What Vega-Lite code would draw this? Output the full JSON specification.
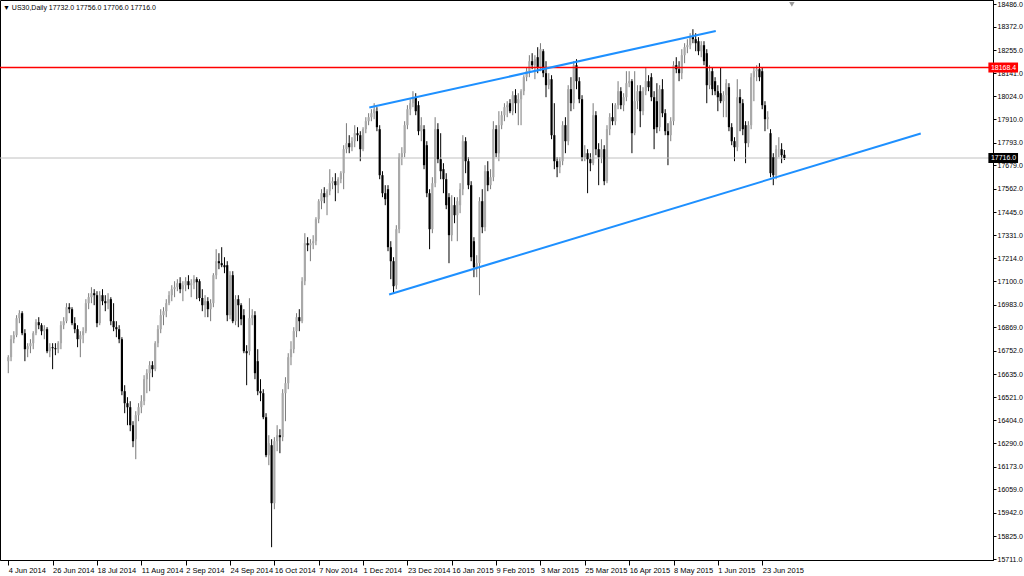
{
  "$schema": "https://vega.github.io/schema/vega-lite/v6.json",
  "width": 993,
  "height": 560,
  "autosize": "none",
  "padding": {"left": 0, "top": 0, "right": 31, "bottom": 16},
  "background": "#ffffff",
  "config": {
    "view": {"stroke": "#000000", "strokeWidth": 1},
    "axis": {"grid": false, "title": null, "labelOverlap": false, "labelFlush": false, "labelBound": false, "tickColor": "#000000", "domainColor": "#000000", "labelColor": "#000000", "labelFont": "Liberation Sans", "labelFontSize": 7},
    "axisX": {"labelPadding": 1, "tickSize": 5, "labelFontSize": 7.5},
    "axisY": {"tickSize": 3, "labelPadding": 1}
  },
  "title": {"text": "▼  US30,Daily  17732.0 17756.0 17706.0 17716.0", "anchor": "start", "frame": "group", "offset": -11, "fontSize": 7, "font": "Liberation Sans", "fontWeight": "normal", "color": "#000000", "dx": 3},
  "datasets": {
    "candles": [
      {"i":0,"o":16700,"h":16730,"l":16640,"c":16720},{"i":1,"o":16720,"h":16830,"l":16700,"c":16810},{"i":2,"o":16810,"h":16850,"l":16790,"c":16830},{"i":3,"o":16830,"h":16930,"l":16820,"c":16915},{"i":4,"o":16915,"h":16955,"l":16890,"c":16940},
      {"i":5,"o":16940,"h":16950,"l":16830,"c":16840},{"i":6,"o":16840,"h":16860,"l":16700,"c":16760},{"i":7,"o":16760,"h":16790,"l":16720,"c":16775},{"i":8,"o":16775,"h":16810,"l":16740,"c":16790},{"i":9,"o":16790,"h":16850,"l":16760,"c":16840},
      {"i":10,"o":16840,"h":16910,"l":16830,"c":16895},{"i":11,"o":16895,"h":16920,"l":16860,"c":16880},{"i":12,"o":16880,"h":16890,"l":16830,"c":16850},{"i":13,"o":16850,"h":16880,"l":16810,"c":16860},{"i":14,"o":16860,"h":16870,"l":16740,"c":16750},
      {"i":15,"o":16750,"h":16790,"l":16720,"c":16770},{"i":16,"o":16770,"h":16790,"l":16660,"c":16765},{"i":17,"o":16765,"h":16790,"l":16730,"c":16760},{"i":18,"o":16760,"h":16800,"l":16740,"c":16790},{"i":19,"o":16790,"h":16900,"l":16760,"c":16880},
      {"i":20,"o":16880,"h":16920,"l":16860,"c":16900},{"i":21,"o":16900,"h":16990,"l":16890,"c":16970},{"i":22,"o":16970,"h":16990,"l":16940,"c":16960},{"i":23,"o":16960,"h":16970,"l":16880,"c":16890},{"i":24,"o":16890,"h":16920,"l":16840,"c":16860},
      {"i":25,"o":16860,"h":16880,"l":16770,"c":16810},{"i":26,"o":16810,"h":16850,"l":16720,"c":16830},{"i":27,"o":16830,"h":16870,"l":16790,"c":16850},{"i":28,"o":16850,"h":17010,"l":16840,"c":16990},{"i":29,"o":16990,"h":17040,"l":16960,"c":17020},
      {"i":30,"o":17020,"h":17070,"l":16990,"c":17040},{"i":31,"o":17040,"h":17060,"l":16980,"c":17030},{"i":32,"o":17030,"h":17050,"l":16870,"c":16890},{"i":33,"o":16890,"h":17050,"l":16880,"c":17030},{"i":34,"o":17030,"h":17060,"l":16980,"c":17000},
      {"i":35,"o":17000,"h":17030,"l":16950,"c":16990},{"i":36,"o":16990,"h":17040,"l":16960,"c":17010},{"i":37,"o":17010,"h":17020,"l":16880,"c":16900},{"i":38,"o":16900,"h":16990,"l":16850,"c":16870},{"i":39,"o":16870,"h":16900,"l":16820,"c":16860},
      {"i":40,"o":16860,"h":16880,"l":16790,"c":16810},{"i":41,"o":16810,"h":16820,"l":16530,"c":16550},{"i":42,"o":16550,"h":16580,"l":16440,"c":16490},{"i":43,"o":16490,"h":16520,"l":16380,"c":16470},{"i":44,"o":16470,"h":16500,"l":16350,"c":16380},
      {"i":45,"o":16380,"h":16400,"l":16270,"c":16300},{"i":46,"o":16310,"h":16450,"l":16210,"c":16430},{"i":47,"o":16430,"h":16490,"l":16400,"c":16470},{"i":48,"o":16470,"h":16530,"l":16440,"c":16500},{"i":49,"o":16500,"h":16630,"l":16480,"c":16610},
      {"i":50,"o":16610,"h":16660,"l":16540,"c":16640},{"i":51,"o":16640,"h":16700,"l":16550,"c":16680},{"i":52,"o":16680,"h":16700,"l":16620,"c":16660},{"i":53,"o":16660,"h":16800,"l":16650,"c":16790},{"i":54,"o":16790,"h":16880,"l":16770,"c":16860},
      {"i":55,"o":16860,"h":16960,"l":16840,"c":16930},{"i":56,"o":16930,"h":16970,"l":16880,"c":16950},{"i":57,"o":16950,"h":17010,"l":16920,"c":16990},{"i":58,"o":16990,"h":17050,"l":16980,"c":17030},{"i":59,"o":17030,"h":17080,"l":17000,"c":17060},
      {"i":60,"o":17060,"h":17100,"l":17020,"c":17070},{"i":61,"o":17070,"h":17110,"l":17050,"c":17090},{"i":62,"o":17090,"h":17120,"l":17040,"c":17060},{"i":63,"o":17060,"h":17100,"l":17000,"c":17080},{"i":64,"o":17080,"h":17120,"l":17050,"c":17100},
      {"i":65,"o":17100,"h":17130,"l":17060,"c":17080},{"i":66,"o":17080,"h":17110,"l":17020,"c":17090},{"i":67,"o":17090,"h":17130,"l":17060,"c":17110},{"i":68,"o":17110,"h":17120,"l":17010,"c":17095},{"i":69,"o":17100,"h":17110,"l":17000,"c":17016},
      {"i":70,"o":17016,"h":17060,"l":16950,"c":16980},{"i":71,"o":16980,"h":17030,"l":16920,"c":17000},{"i":72,"o":17000,"h":17020,"l":16920,"c":16960},{"i":73,"o":16960,"h":17010,"l":16900,"c":16990},{"i":74,"o":16990,"h":17140,"l":16970,"c":17130},
      {"i":75,"o":17130,"h":17260,"l":17110,"c":17200},{"i":76,"o":17200,"h":17240,"l":17160,"c":17190},{"i":77,"o":17190,"h":17270,"l":17170,"c":17180},{"i":78,"o":17180,"h":17220,"l":17140,"c":17170},{"i":79,"o":17180,"h":17200,"l":16900,"c":16930},
      {"i":80,"o":16930,"h":17150,"l":16910,"c":17130},{"i":81,"o":17130,"h":17150,"l":16890,"c":16900},{"i":82,"o":16900,"h":17030,"l":16880,"c":17010},{"i":83,"o":17010,"h":17030,"l":16870,"c":16980},{"i":84,"o":16980,"h":16990,"l":16880,"c":16910},
      {"i":85,"o":16930,"h":16960,"l":16740,"c":16750},{"i":86,"o":16750,"h":16780,"l":16580,"c":16740},{"i":87,"o":16750,"h":17015,"l":16730,"c":16915},{"i":88,"o":16915,"h":16960,"l":16880,"c":16930},{"i":89,"o":16930,"h":16950,"l":16610,"c":16640},
      {"i":90,"o":16700,"h":16760,"l":16530,"c":16550},{"i":91,"o":16550,"h":16610,"l":16500,"c":16540},{"i":92,"o":16540,"h":16560,"l":16410,"c":16420},{"i":93,"o":16420,"h":16440,"l":16220,"c":16230},{"i":94,"o":16230,"h":16330,"l":16180,"c":16290},
      {"i":95,"o":16280,"h":16310,"l":15770,"c":15990},{"i":96,"o":15990,"h":16320,"l":15960,"c":16300},{"i":97,"o":16300,"h":16380,"l":16250,"c":16330},{"i":98,"o":16330,"h":16360,"l":16240,"c":16320},{"i":99,"o":16320,"h":16560,"l":16300,"c":16540},
      {"i":100,"o":16540,"h":16620,"l":16400,"c":16590},{"i":101,"o":16590,"h":16740,"l":16560,"c":16720},{"i":102,"o":16720,"h":16800,"l":16680,"c":16760},{"i":103,"o":16760,"h":16870,"l":16740,"c":16850},{"i":104,"o":16850,"h":16940,"l":16820,"c":16920},
      {"i":105,"o":16920,"h":16960,"l":16850,"c":16900},{"i":106,"o":16900,"h":17120,"l":16890,"c":17100},{"i":107,"o":17100,"h":17340,"l":17080,"c":17290},{"i":108,"o":17290,"h":17320,"l":17250,"c":17280},{"i":109,"o":17280,"h":17310,"l":17200,"c":17290},
      {"i":110,"o":17290,"h":17330,"l":17260,"c":17300},{"i":111,"o":17300,"h":17420,"l":17280,"c":17410},{"i":112,"o":17410,"h":17510,"l":17390,"c":17500},{"i":113,"o":17500,"h":17560,"l":17460,"c":17540},{"i":114,"o":17540,"h":17570,"l":17490,"c":17520},
      {"i":115,"o":17520,"h":17560,"l":17430,"c":17550},{"i":116,"o":17550,"h":17660,"l":17530,"c":17590},{"i":117,"o":17590,"h":17620,"l":17560,"c":17600},{"i":118,"o":17600,"h":17640,"l":17500,"c":17580},{"i":119,"o":17580,"h":17620,"l":17540,"c":17610},
      {"i":120,"o":17610,"h":17650,"l":17590,"c":17640},{"i":121,"o":17640,"h":17780,"l":17560,"c":17760},{"i":122,"o":17760,"h":17890,"l":17740,"c":17790},{"i":123,"o":17790,"h":17830,"l":17740,"c":17770},{"i":124,"o":17770,"h":17820,"l":17750,"c":17800},
      {"i":125,"o":17800,"h":17880,"l":17770,"c":17840},{"i":126,"o":17840,"h":17870,"l":17800,"c":17830},{"i":127,"o":17830,"h":17850,"l":17700,"c":17760},{"i":128,"o":17760,"h":17870,"l":17750,"c":17860},{"i":129,"o":17860,"h":17920,"l":17840,"c":17900},
      {"i":130,"o":17900,"h":17940,"l":17880,"c":17920},{"i":131,"o":17920,"h":17960,"l":17900,"c":17940},{"i":132,"o":17940,"h":17990,"l":17910,"c":17960},{"i":133,"o":17950,"h":17970,"l":17850,"c":17870},{"i":134,"o":17860,"h":17880,"l":17610,"c":17630},
      {"i":135,"o":17630,"h":17650,"l":17520,"c":17540},{"i":136,"o":17540,"h":17580,"l":17480,"c":17510},{"i":137,"o":17560,"h":17580,"l":17250,"c":17270},{"i":138,"o":17270,"h":17300,"l":17110,"c":17200},{"i":139,"o":17200,"h":17220,"l":17040,"c":17075},
      {"i":140,"o":17080,"h":17380,"l":17060,"c":17360},{"i":141,"o":17360,"h":17740,"l":17340,"c":17720},{"i":142,"o":17720,"h":17770,"l":17680,"c":17740},{"i":143,"o":17740,"h":17900,"l":17720,"c":17880},{"i":144,"o":17880,"h":17980,"l":17860,"c":17960},
      {"i":145,"o":17960,"h":18010,"l":17930,"c":17990},{"i":146,"o":17990,"h":18050,"l":17970,"c":18020},{"i":147,"o":18020,"h":18040,"l":17930,"c":17950},{"i":148,"o":17980,"h":18000,"l":17830,"c":17850},{"i":149,"o":17850,"h":17920,"l":17800,"c":17880},
      {"i":150,"o":17860,"h":17880,"l":17660,"c":17680},{"i":151,"o":17780,"h":17800,"l":17520,"c":17540},{"i":152,"o":17540,"h":17560,"l":17260,"c":17360},{"i":153,"o":17360,"h":17620,"l":17340,"c":17590},{"i":154,"o":17590,"h":17920,"l":17570,"c":17860},
      {"i":155,"o":17860,"h":17890,"l":17690,"c":17710},{"i":156,"o":17710,"h":17840,"l":17610,"c":17650},{"i":157,"o":17660,"h":17690,"l":17540,"c":17610},{"i":158,"o":17610,"h":17640,"l":17460,"c":17480},{"i":159,"o":17520,"h":17540,"l":17190,"c":17330},
      {"i":160,"o":17330,"h":17530,"l":17300,"c":17480},{"i":161,"o":17480,"h":17520,"l":17390,"c":17430},{"i":162,"o":17430,"h":17520,"l":17300,"c":17500},{"i":163,"o":17480,"h":17590,"l":17440,"c":17560},{"i":164,"o":17560,"h":17830,"l":17530,"c":17800},
      {"i":165,"o":17800,"h":17820,"l":17640,"c":17700},{"i":166,"o":17700,"h":17720,"l":17560,"c":17580},{"i":167,"o":17580,"h":17600,"l":17200,"c":17220},{"i":168,"o":17300,"h":17320,"l":17120,"c":17170},{"i":169,"o":17170,"h":17230,"l":17120,"c":17190},
      {"i":170,"o":17190,"h":17520,"l":17030,"c":17500},{"i":171,"o":17500,"h":17560,"l":17340,"c":17370},{"i":172,"o":17370,"h":17680,"l":17350,"c":17650},{"i":173,"o":17650,"h":17700,"l":17550,"c":17580},{"i":174,"o":17580,"h":17660,"l":17560,"c":17620},
      {"i":175,"o":17620,"h":17900,"l":17600,"c":17860},{"i":176,"o":17860,"h":17880,"l":17720,"c":17740},{"i":177,"o":17740,"h":17950,"l":17700,"c":17880},{"i":178,"o":17880,"h":17950,"l":17860,"c":17930},{"i":179,"o":17930,"h":17990,"l":17900,"c":17970},
      {"i":180,"o":17970,"h":18000,"l":17920,"c":17980},{"i":181,"o":17990,"h":18010,"l":17940,"c":17950},{"i":182,"o":17950,"h":18050,"l":17930,"c":18030},{"i":183,"o":18030,"h":18060,"l":17940,"c":17990},{"i":184,"o":17990,"h":18040,"l":17880,"c":18010},
      {"i":185,"o":18010,"h":18060,"l":17880,"c":18050},{"i":186,"o":18050,"h":18130,"l":18030,"c":18120},{"i":187,"o":18120,"h":18170,"l":18100,"c":18150},{"i":188,"o":18150,"h":18230,"l":18120,"c":18200},{"i":189,"o":18200,"h":18240,"l":18160,"c":18180},
      {"i":190,"o":18180,"h":18230,"l":18110,"c":18210},{"i":191,"o":18220,"h":18270,"l":18140,"c":18170},{"i":192,"o":18170,"h":18290,"l":18150,"c":18260},{"i":193,"o":18250,"h":18260,"l":18120,"c":18140},{"i":194,"o":18140,"h":18200,"l":18020,"c":18080},
      {"i":195,"o":18080,"h":18140,"l":18060,"c":18110},{"i":196,"o":18110,"h":18130,"l":17810,"c":17830},{"i":197,"o":17830,"h":17990,"l":17660,"c":17700},{"i":198,"o":17700,"h":17720,"l":17620,"c":17670},{"i":199,"o":17670,"h":17720,"l":17640,"c":17700},
      {"i":200,"o":17700,"h":17900,"l":17680,"c":17880},{"i":201,"o":17880,"h":17920,"l":17740,"c":17800},{"i":202,"o":17800,"h":18080,"l":17780,"c":18060},{"i":203,"o":18060,"h":18120,"l":17950,"c":17990},{"i":204,"o":17990,"h":18200,"l":17960,"c":18180},
      {"i":205,"o":18180,"h":18210,"l":18060,"c":18100},{"i":206,"o":18100,"h":18120,"l":17990,"c":18010},{"i":207,"o":18010,"h":18030,"l":17700,"c":17720},{"i":208,"o":17720,"h":17780,"l":17700,"c":17740},{"i":209,"o":17740,"h":17760,"l":17540,"c":17710},
      {"i":210,"o":17710,"h":17740,"l":17650,"c":17690},{"i":211,"o":17690,"h":17990,"l":17680,"c":17930},{"i":212,"o":17930,"h":17950,"l":17730,"c":17760},{"i":213,"o":17760,"h":17790,"l":17580,"c":17720},{"i":214,"o":17720,"h":17810,"l":17690,"c":17760},
      {"i":215,"o":17760,"h":17780,"l":17580,"c":17600},{"i":216,"o":17600,"h":17880,"l":17590,"c":17860},{"i":217,"o":17860,"h":17940,"l":17830,"c":17920},{"i":218,"o":17920,"h":17990,"l":17880,"c":17900},{"i":219,"o":17900,"h":17990,"l":17880,"c":17980},
      {"i":220,"o":17980,"h":18100,"l":17960,"c":18050},{"i":221,"o":18050,"h":18070,"l":17960,"c":17980},{"i":222,"o":17980,"h":18040,"l":17950,"c":18020},{"i":223,"o":18020,"h":18150,"l":18000,"c":18090},{"i":224,"o":18090,"h":18150,"l":18070,"c":18100},
      {"i":225,"o":18100,"h":18110,"l":17740,"c":17840},{"i":226,"o":17840,"h":18150,"l":17830,"c":18000},{"i":227,"o":18000,"h":18080,"l":17960,"c":18050},{"i":228,"o":18050,"h":18080,"l":17870,"c":17950},{"i":229,"o":17950,"h":18070,"l":17930,"c":18050},
      {"i":230,"o":18050,"h":18170,"l":18030,"c":18100},{"i":231,"o":18100,"h":18130,"l":18050,"c":18070},{"i":232,"o":18120,"h":18140,"l":18000,"c":18020},{"i":233,"o":18020,"h":18050,"l":17760,"c":17860},{"i":234,"o":18000,"h":18090,"l":17840,"c":17870},
      {"i":235,"o":17870,"h":18080,"l":17850,"c":18060},{"i":236,"o":18060,"h":18110,"l":17920,"c":17940},{"i":237,"o":17940,"h":17960,"l":17830,"c":17850},{"i":238,"o":17850,"h":17890,"l":17680,"c":17830},{"i":239,"o":17830,"h":17920,"l":17800,"c":17900},
      {"i":240,"o":17900,"h":18200,"l":17880,"c":18180},{"i":241,"o":18180,"h":18220,"l":18140,"c":18160},{"i":242,"o":18160,"h":18200,"l":18100,"c":18140},{"i":243,"o":18140,"h":18260,"l":18110,"c":18230},{"i":244,"o":18230,"h":18290,"l":18190,"c":18270},
      {"i":245,"o":18270,"h":18310,"l":18240,"c":18280},{"i":246,"o":18280,"h":18340,"l":18260,"c":18320},{"i":247,"o":18320,"h":18360,"l":18290,"c":18310},{"i":248,"o":18310,"h":18340,"l":18250,"c":18290},{"i":249,"o":18300,"h":18320,"l":18230,"c":18250},
      {"i":250,"o":18250,"h":18300,"l":18220,"c":18280},{"i":251,"o":18280,"h":18300,"l":18180,"c":18200},{"i":252,"o":18240,"h":18260,"l":17990,"c":18080},{"i":253,"o":18080,"h":18180,"l":18060,"c":18150},{"i":254,"o":18150,"h":18170,"l":18030,"c":18060},
      {"i":255,"o":18100,"h":18120,"l":18030,"c":18050},{"i":256,"o":18050,"h":18080,"l":17950,"c":18020},{"i":257,"o":18040,"h":18170,"l":17990,"c":18000},{"i":258,"o":18000,"h":18050,"l":17920,"c":18030},{"i":259,"o":18030,"h":18110,"l":17920,"c":18090},
      {"i":260,"o":18070,"h":18090,"l":17850,"c":17870},{"i":261,"o":17870,"h":17890,"l":17780,"c":17800},{"i":262,"o":17800,"h":17820,"l":17700,"c":17770},{"i":263,"o":17770,"h":18110,"l":17750,"c":18020},{"i":264,"o":18020,"h":18060,"l":17850,"c":17990},
      {"i":265,"o":17990,"h":18010,"l":17830,"c":17860},{"i":266,"o":17880,"h":17900,"l":17690,"c":17790},{"i":267,"o":17790,"h":17900,"l":17770,"c":17880},{"i":268,"o":17880,"h":18140,"l":17860,"c":18120},{"i":269,"o":18120,"h":18170,"l":18000,"c":18150},
      {"i":270,"o":18150,"h":18180,"l":18100,"c":18160},{"i":271,"o":18160,"h":18190,"l":18100,"c":18120},{"i":272,"o":18150,"h":18170,"l":17960,"c":17980},{"i":273,"o":17980,"h":18000,"l":17850,"c":17910},{"i":274,"o":17910,"h":17950,"l":17860,"c":17920},
      {"i":275,"o":17840,"h":17860,"l":17620,"c":17640},{"i":276,"o":17720,"h":17740,"l":17580,"c":17630},{"i":277,"o":17630,"h":17780,"l":17610,"c":17760},{"i":278,"o":17760,"h":17820,"l":17720,"c":17760},{"i":279,"o":17760,"h":17790,"l":17690,"c":17730},
      {"i":280,"o":17732,"h":17756,"l":17706,"c":17716}
    ],
    "trend": [
      {"line": "upper", "i": 130.25, "v": 17968.5},
      {"line": "upper", "i": 255.25, "v": 18351},
      {"line": "lower", "i": 137.4, "v": 17033.5},
      {"line": "lower", "i": 329.2, "v": 17838.5}
    ],
    "tags": [
      {"v": 18168.4, "label": "18168.4", "kind": "level"},
      {"v": 17716.0, "label": "17716.0", "kind": "bid"}
    ],
    "marker": [{"i": 282.7, "v": 18484}]
  },
  "layer": [
    {
      "data": {"name": "candles"},
      "mark": {"type": "rule", "strokeWidth": 1},
      "encoding": {
        "x": {"field": "i", "type": "quantitative", "scale": {"domain": [-1.18, 353.46], "zero": false, "nice": false},
          "axis": {"values": [0,16,32,48,64,80,96,112,128,144,160,176,192,208,224,240,256,272], "tickCount": 40,
            "labelExpr": "['4 Jun 2014','26 Jun 2014','18 Jul 2014','11 Aug 2014','2 Sep 2014','24 Sep 2014','16 Oct 2014','7 Nov 2014','1 Dec 2014','23 Dec 2014','16 Jan 2015','9 Feb 2015','3 Mar 2015','25 Mar 2015','16 Apr 2015','8 May 2015','1 Jun 2015','23 Jun 2015'][round(datum.value/16)]",
            "labelAlign": "left", "labelDx": -3, "labelOverlap": false, "title": null}},
        "y": {"field": "l", "type": "quantitative", "scale": {"domain": [15706, 18506], "zero": false, "nice": false},
          "axis": {"orient": "right", "values": [18486,18372,18255,18141,18024,17910,17793,17679,17562,17445,17331,17214,17100,16983,16869,16752,16635,16521,16404,16290,16173,16059,15942,15825,15711], "tickCount": 40,
            "format": ".1f", "labelOverlap": false, "title": null}},
        "y2": {"field": "h"},
        "color": {"condition": {"test": "datum.c < datum.o", "value": "#000000"}, "value": "#7a7a7a"}
      }
    },
    {
      "data": {"name": "tags"},
      "transform": [{"filter": "datum.kind == 'bid'"}],
      "mark": {"type": "rule", "color": "#c0c0c0", "strokeWidth": 1},
      "encoding": {
        "y": {"field": "v", "type": "quantitative", "scale": {"domain": [15706, 18506], "zero": false, "nice": false}}
      }
    },
    {
      "data": {"name": "candles"},
      "mark": {"type": "bar", "width": 2.2},
      "encoding": {
        "x": {"field": "i", "type": "quantitative", "scale": {"domain": [-1.18, 353.46], "zero": false, "nice": false}},
        "y": {"field": "o", "type": "quantitative", "scale": {"domain": [15706, 18506], "zero": false, "nice": false}},
        "y2": {"field": "c"},
        "color": {"condition": {"test": "datum.c < datum.o", "value": "#000000"}, "value": "#a9a9a9"}
      }
    },
    {
      "data": {"name": "tags"},
      "transform": [{"filter": "datum.kind == 'level'"}],
      "mark": {"type": "rule", "color": "#ff0000", "strokeWidth": 1.5},
      "encoding": {
        "y": {"field": "v", "type": "quantitative", "scale": {"domain": [15706, 18506], "zero": false, "nice": false}}
      }
    },
    {
      "data": {"name": "trend"},
      "mark": {"type": "line", "color": "#1e90ff", "strokeWidth": 2},
      "encoding": {
        "x": {"field": "i", "type": "quantitative", "scale": {"domain": [-1.18, 353.46], "zero": false, "nice": false}},
        "y": {"field": "v", "type": "quantitative", "scale": {"domain": [15706, 18506], "zero": false, "nice": false}},
        "detail": {"field": "line"}
      }
    },
    {
      "data": {"name": "tags"},
      "mark": {"type": "rect", "height": 10},
      "encoding": {
        "x": {"datum": 353.6, "type": "quantitative", "scale": {"domain": [-1.18, 353.46], "zero": false, "nice": false}},
        "x2": {"datum": 364.3},
        "y": {"field": "v", "type": "quantitative", "scale": {"domain": [15706, 18506], "zero": false, "nice": false}},
        "color": {"condition": {"test": "datum.kind == 'level'", "value": "#ff0000"}, "value": "#000000"}
      }
    },
    {
      "data": {"name": "tags"},
      "mark": {"type": "text", "align": "left", "baseline": "middle", "font": "Liberation Sans", "fontSize": 7, "color": "#ffffff"},
      "encoding": {
        "x": {"datum": 354.5, "type": "quantitative", "scale": {"domain": [-1.18, 353.46], "zero": false, "nice": false}},
        "y": {"field": "v", "type": "quantitative", "scale": {"domain": [15706, 18506], "zero": false, "nice": false}},
        "text": {"field": "label"}
      }
    },
    {
      "data": {"name": "marker"},
      "mark": {"type": "point", "shape": "triangle-down", "filled": true, "color": "#9a9a9a", "size": 30, "opacity": 1},
      "encoding": {
        "x": {"field": "i", "type": "quantitative", "scale": {"domain": [-1.18, 353.46], "zero": false, "nice": false}},
        "y": {"field": "v", "type": "quantitative", "scale": {"domain": [15706, 18506], "zero": false, "nice": false}}
      }
    }
  ]
}
